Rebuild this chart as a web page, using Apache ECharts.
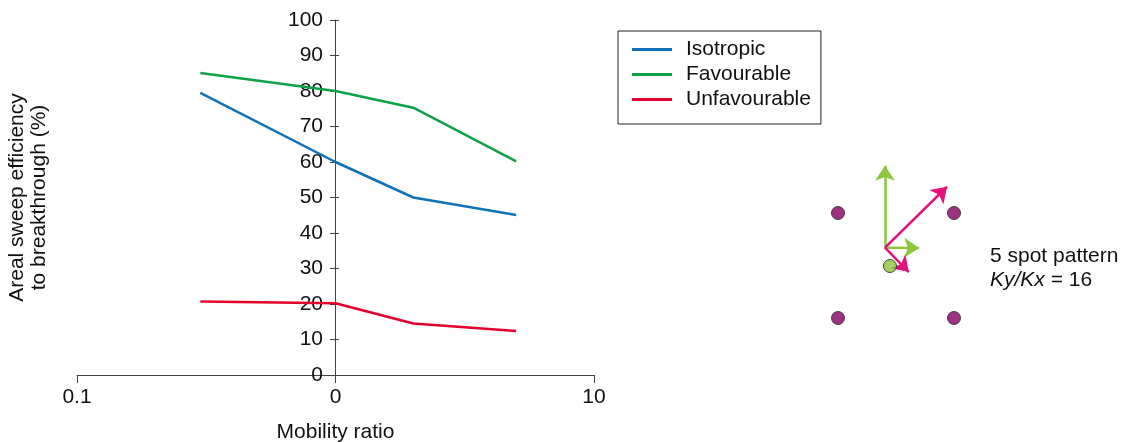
<!DOCTYPE html>
<html>
<head>
<meta charset="utf-8">
<script src="https://cdn.jsdelivr.net/npm/echarts@6/dist/echarts.min.js"></script>
<style>
  html, body { margin: 0; padding: 0; background: #fff; }
  #chart { width: 1130px; height: 443px; }
</style>
</head>
<body>
<div id="chart"></div>
<script>
// mobility ratio (log axis) and sweep efficiency (%)
var mobility = [0.3, 1, 2, 5];
var isotropic = [79.5, 60, 50, 45.1];
var favourable = [85.1, 80, 75.3, 60.2];
var unfavourable = [20.7, 20.2, 14.5, 12.4];
var yTicks = [0, 10, 20, 30, 40, 50, 60, 70, 80, 90, 100];

// 5 spot pattern sketch, in well-spacing units
var producers = [[0, 1], [1, 1], [0, 0], [1, 0]];
var injector = [[0.448, 0.495]];
var arrowOrigin = [0.405, 0.67];
var greenArrows = [[0.405, 1.45], [0.70, 0.667]];
var pinkArrows = [[0.94, 1.25], [0.61, 0.438]];

var fontFam = 'Liberation Sans, Arial, sans-serif';
var blue = '#0f72b8', green = '#0ea146', red = '#e3002c';

function pairs(pts) {
  var out = [];
  for (var i = 0; i < pts.length; i++) out.push({ coords: [arrowOrigin, pts[i]] });
  return out;
}
function zip(xs, ys) {
  var out = [];
  for (var i = 0; i < xs.length; i++) out.push([xs[i], ys[i]]);
  return out;
}

var myChart = echarts.init(document.getElementById('chart'));
var option = {
  animation: false,
  grid: [
    { left: 77, right: 536, top: 20, bottom: 68, containLabel: false, outerBoundsMode: 'none' },
    { left: 838, width: 116, top: 160.5, height: 157.5, containLabel: false, outerBoundsMode: 'none' }
  ],
  legend: {
    left: 618, top: 31,
    orient: 'vertical',
    data: ['Isotropic', 'Favourable', 'Unfavourable'],
    icon: 'rect',
    itemWidth: 40, itemHeight: 3,
    itemGap: 4,
    borderColor: '#222', borderWidth: 1,
    padding: [8, 10, 14, 14],
    textStyle: { fontFamily: fontFam, fontSize: 21, color: '#111', lineHeight: 21, padding: [0, 0, 0, 9] }
  },
  xAxis: [{
    type: 'log', logBase: 10, min: 0.1, max: 10,
    name: 'Mobility ratio', nameLocation: 'middle', nameGap: 47,
    nameTextStyle: { fontFamily: fontFam, fontSize: 21, color: '#111' },
    axisLine: { lineStyle: { color: '#444', width: 1 } },
    axisTick: { show: true, length: 8, lineStyle: { color: '#444' } },
    axisLabel: { margin: 12, fontFamily: fontFam, fontSize: 21, color: '#111',
      formatter: function (v) { return v === 1 ? '0' : String(v); } },
    splitLine: { show: false },
    minorTick: { show: false }
  }, {
    gridIndex: 1, type: 'value', min: 0, max: 1, show: false
  }],
  yAxis: [{
    type: 'value', position: 'left', min: 0, max: 100, interval: 10, offset: -258,
    name: 'Areal sweep efficiency\nto breakthrough (%)',
    nameLocation: 'middle', nameGap: 285, nameRotate: 90,
    nameTextStyle: { fontFamily: fontFam, fontSize: 21, color: '#111', lineHeight: 22 },
    axisLine: { show: true, lineStyle: { color: '#444', width: 1 } },
    axisTick: { show: true, length: 5, lineStyle: { color: '#444' } },
    axisLabel: { margin: 12, fontFamily: fontFam, fontSize: 21, color: '#111',
      customValues: yTicks },
    splitLine: { show: false }
  }, {
    type: 'value', position: 'left', min: 0, max: 100, interval: 10, offset: -258,
    axisLine: { show: false },
    axisTick: { show: true, inside: true, length: 4, lineStyle: { color: '#444' } },
    axisLabel: { show: false },
    splitLine: { show: false }
  }, {
    gridIndex: 1, type: 'value', min: 0, max: 1.5, show: false
  }],
  series: [
    { name: 'Isotropic', type: 'line', data: zip(mobility, isotropic), showSymbol: false,
      lineStyle: { color: blue, width: 2.5 }, itemStyle: { color: blue } },
    { name: 'Favourable', type: 'line', data: zip(mobility, favourable), showSymbol: false,
      lineStyle: { color: green, width: 2.5 }, itemStyle: { color: green } },
    { name: 'Unfavourable', type: 'line', data: zip(mobility, unfavourable), showSymbol: false,
      lineStyle: { color: red, width: 2.5 }, itemStyle: { color: red } },
    { type: 'lines', coordinateSystem: 'cartesian2d', xAxisIndex: 1, yAxisIndex: 2,
      clip: false, symbol: ['none', 'arrow'], symbolSize: [11, 15],
      lineStyle: { color: '#8cc63e', width: 2.5, opacity: 1 }, data: pairs(greenArrows) },
    { type: 'lines', coordinateSystem: 'cartesian2d', xAxisIndex: 1, yAxisIndex: 2,
      clip: false, symbol: ['none', 'arrow'], symbolSize: [11, 15],
      lineStyle: { color: '#e2127a', width: 2.5, opacity: 1 }, data: pairs(pinkArrows) },
    { type: 'scatter', xAxisIndex: 1, yAxisIndex: 2, clip: false, symbolSize: 13,
      itemStyle: { color: '#870062', borderColor: '#222', borderWidth: 1 }, data: producers },
    { type: 'scatter', xAxisIndex: 1, yAxisIndex: 2, clip: false, symbolSize: 13,
      itemStyle: { color: '#8cc63e', borderColor: '#222', borderWidth: 1 }, data: injector }
  ],
  graphic: [{
    type: 'text', left: 990, top: 244,
    style: {
      text: '5 spot pattern\n{i|Ky/Kx} = 16',
      fontFamily: fontFam, fontSize: 21, fill: '#111', lineHeight: 24,
      rich: { i: { fontStyle: 'italic', fontFamily: fontFam, fontSize: 21, fill: '#111' } }
    }
  }]
};
myChart.setOption(option);
</script>
</body>
</html>
